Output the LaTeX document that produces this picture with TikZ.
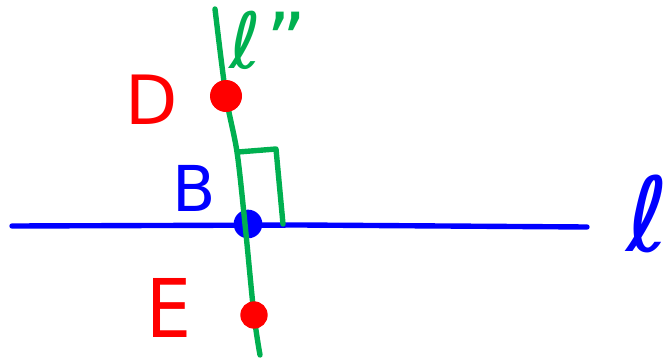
\documentclass[tikz,border=0pt]{standalone}
\usepackage{fontspec}
\setmainfont{DejaVu Sans}
\definecolor{penred}{RGB}{255,0,0}
\definecolor{penblue}{RGB}{0,0,255}
\definecolor{pengreen}{RGB}{0,176,80}
\tikzset{
    dot/.style={circle, fill=#1, inner sep=0pt, minimum size=.9cm},
    pen/.style={line width=4.6pt, line cap=round, line join=round},
    lbl/.style={font=\fontsize{#1}{#1}\selectfont, inner sep=0pt},
}

\begin{document}
\begin{tikzpicture}[x=.03cm, y=-.03cm]
    \useasboundingbox (0,0) rectangle (668,359);

    % line l
    \coordinate (lw) at (12,226);
    \coordinate (le) at (587,227);
    \draw[pen, penblue] (lw) -- (300,225) -- (le);
    \node[dot=penblue, minimum size=.86cm] (B) at (248,224) {};

    % line l''
    \draw[pen, pengreen] plot[smooth] coordinates
        {(215,9) (226,96) (237,152) (245,224) (254,315) (260,355)};
    \draw[pen, pengreen] (238,152) -- (276,149) -- (283,224);

    \node[dot=penred, minimum size=.96cm] (D) at (226,96) {};
    \node[dot=penred, minimum size=.82cm] (E) at (254,315) {};

    % labels
    \node[lbl=58, penred] (labD) at (152,100) {D};
    \node[lbl=54, penblue] (labB) at (194,188) {B};
    \node[lbl=64, penred, yscale=1.08, xscale=.95] (labE) at (169,308) {E};
    \node[lbl=66, pengreen] (labl2) at (268,40) {ℓ\kern4pt''};
    \node[lbl=88, penblue] (labl) at (648,214) {ℓ};
\end{tikzpicture}
\end{document}
